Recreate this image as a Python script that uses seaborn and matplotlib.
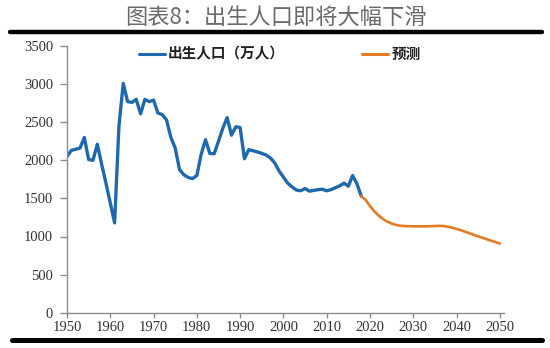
import numpy as np
import pandas as pd
import matplotlib
matplotlib.use("Agg")
import matplotlib.pyplot as plt
from matplotlib.lines import Line2D
import seaborn as sns

# ---------------- data ----------------
hist_years = list(range(1950, 2019))
hist_births = [2050, 2130, 2145, 2160, 2300, 2010, 2000, 2210, 1950, 1700,
               1440, 1179, 2450, 3010, 2770, 2760, 2800, 2610, 2800, 2770,
               2790, 2620, 2600, 2530, 2300, 2160, 1880, 1810, 1775, 1760,
               1800, 2080, 2270, 2090, 2085, 2250, 2420, 2560, 2330, 2440,
               2430, 2020, 2140, 2125, 2110, 2090, 2070, 2030, 1965, 1860,
               1780, 1700, 1650, 1610, 1600, 1630, 1595, 1605, 1615, 1620,
               1600, 1615, 1640, 1665, 1700, 1660, 1800, 1690, 1529]

fc_years = list(range(2018, 2051))
fc_births = [1529, 1480, 1400, 1330, 1275, 1230, 1195, 1170, 1152, 1142,
             1137, 1135, 1134, 1133, 1133, 1134, 1135, 1137, 1140, 1137,
             1128, 1116, 1100, 1082, 1062, 1042, 1022, 1002, 983, 964,
             945, 926, 908]

title = "图表8：出生人口即将大幅下滑"
label_hist = "出生人口（万人）"
label_fc = "预测"
x_ticks = list(range(1950, 2051, 10))
y_ticks = list(range(0, 3501, 500))

# ---------------- style ----------------
sns.set_theme(style="white")
plt.rcParams["font.family"] = ["Noto Sans CJK SC", "DejaVu Sans"]

BLUE = "#1f68ad"
ORANGE = "#e57b25"
SPINE = "#8c8c8c"

fig = plt.figure(figsize=(5.5, 3.48), dpi=100)
ax = fig.add_axes([67 / 550, 1 - 312.7 / 348, 436.7 / 550, (312.7 - 46) / 348])

df_h = pd.DataFrame({"year": hist_years, "births": hist_births})
df_f = pd.DataFrame({"year": fc_years, "births": fc_births})

sns.lineplot(data=df_h, x="year", y="births", ax=ax, color=BLUE, lw=2.4,
             label=label_hist)
sns.lineplot(data=df_f, x="year", y="births", ax=ax, color=ORANGE, lw=1.9,
             label=label_fc)

ax.set_xlim(1950, 2050.9)
ax.set_ylim(0, 3500)
ax.set_xticks(x_ticks)
ax.set_yticks(y_ticks)
ax.set_xlabel("")
ax.set_ylabel("")

for s in ["top", "right"]:
    ax.spines[s].set_visible(False)
for s in ["left", "bottom"]:
    ax.spines[s].set_color(SPINE)
    ax.spines[s].set_linewidth(1.0)

ax.tick_params(axis="y", direction="out", length=5, width=1, color=SPINE,
               pad=5, left=True)
ax.tick_params(axis="x", direction="out", length=3.5, width=1, color=SPINE,
               pad=2.5, bottom=True)
for lab in ax.get_xticklabels() + ax.get_yticklabels():
    lab.set_fontfamily("Liberation Serif")
    lab.set_fontsize(10.5)
    lab.set_color("#333333")

leg = ax.legend(loc="center left", bbox_to_anchor=(139 / 550, 1 - 53.7 / 348),
                bbox_transform=fig.transFigure, ncol=2, frameon=False,
                handlelength=1.75, handletextpad=0.25, columnspacing=5.3,
                borderpad=0, borderaxespad=0,
                prop={"family": ["Noto Sans CJK SC", "DejaVu Sans"],
                      "weight": "bold", "size": 10.5})
for t in leg.get_texts():
    t.set_color("#222222")
for h in leg.legend_handles:
    h.set_linewidth(2.2)

# title and decorative rules
fig.text(276 / 550, 1 - 17 / 348, title, ha="center", va="center",
         fontsize=16, color="#6a6a6a", fontweight="light",
         family=["Noto Sans CJK SC", "DejaVu Sans"])
fig.add_artist(Line2D([10 / 550, 542 / 550], [1 - 32 / 348, 1 - 32 / 348],
                      transform=fig.transFigure, color="black", lw=3.2))
fig.add_artist(Line2D([12 / 550, 542 / 550], [1 - 339.5 / 348, 1 - 339.5 / 348],
                      transform=fig.transFigure, color="black", lw=3.6))

fig.savefig("out.png", dpi=100)
